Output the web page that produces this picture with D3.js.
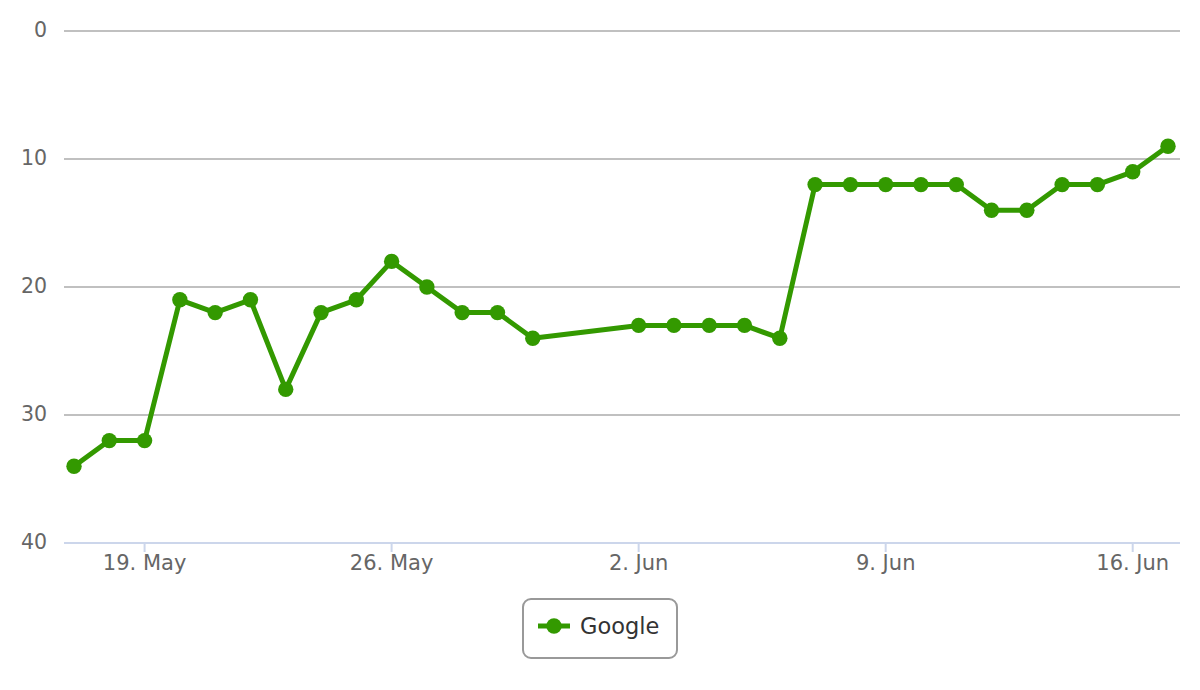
<!DOCTYPE html>
<html>
<head>
<meta charset="utf-8">
<script src="https://cdn.jsdelivr.net/npm/d3@7"></script>
<style>
html,body{margin:0;padding:0;background:#fff;}
svg{display:block;font-family:"DejaVu Sans",Verdana,sans-serif;}
</style>
</head>
<body>
<svg id="chart" width="1200" height="690"></svg>
<script>
const seriesName = "Google";
const dates = [
  "2014-05-17","2014-05-18","2014-05-19","2014-05-20","2014-05-21","2014-05-22","2014-05-23",
  "2014-05-24","2014-05-25","2014-05-26","2014-05-27","2014-05-28","2014-05-29","2014-05-30",
  "2014-06-02","2014-06-03","2014-06-04","2014-06-05","2014-06-06","2014-06-07","2014-06-08",
  "2014-06-09","2014-06-10","2014-06-11","2014-06-12","2014-06-13","2014-06-14","2014-06-15",
  "2014-06-16","2014-06-17"
];
const ranks = [34,32,32,21,22,21,28,22,21,18,20,22,22,24,
               23,23,23,23,24,12,12,12,12,12,14,14,12,12,11,9];
const xTicks = ["2014-05-19","2014-05-26","2014-06-02","2014-06-09","2014-06-16"];
const yTicks = [0,10,20,30,40];

const svg = d3.select("#chart");
const parse = d3.utcParse("%Y-%m-%d");
const fmt = d3.utcFormat("%-d. %b");
const data = dates.map((d,i)=>({date:parse(d), v:ranks[i]}));

const plotLeft = 64, plotRight = 1180;
const x = d3.scaleUtc().domain([parse("2014-05-17"), parse("2014-06-17")]).range([74, 1168]);
const y = d3.scaleLinear().domain([0,40]).range([31,543]);

// grid lines
svg.append("g").selectAll("line").data(yTicks.filter(t=>t<40)).join("line")
  .attr("x1",plotLeft).attr("x2",plotRight)
  .attr("y1",d=>y(d)).attr("y2",d=>y(d))
  .attr("stroke","#c0c0c0").attr("stroke-width",2);

// y labels
svg.append("g").selectAll("text").data(yTicks).join("text")
  .attr("x",47).attr("y",d=>y(d)-1.5).attr("dy","0.36em")
  .attr("text-anchor","end").attr("fill","#666").attr("font-size",20.5)
  .text(d=>d);

// x axis line
svg.append("line").attr("x1",plotLeft).attr("x2",plotRight)
  .attr("y1",y(40)).attr("y2",y(40)).attr("stroke","#ccd6eb").attr("stroke-width",2);

const xt = svg.append("g").selectAll("g").data(xTicks.map(parse)).join("g")
  .attr("transform",d=>`translate(${x(d)},0)`);
xt.append("line").attr("y1",y(40)).attr("y2",y(40)+9).attr("stroke","#ccd6eb").attr("stroke-width",2);
xt.append("text").attr("y",570).attr("text-anchor","middle").attr("fill","#666").attr("font-size",21)
  .text(d=>fmt(d));

const color = "#339900";
const line = d3.line().x(d=>x(d.date)).y(d=>y(d.v));
svg.append("path").datum(data).attr("d",line)
  .attr("fill","none").attr("stroke",color).attr("stroke-width",5)
  .attr("stroke-linejoin","round").attr("stroke-linecap","round");
svg.append("g").selectAll("circle").data(data).join("circle")
  .attr("cx",d=>x(d.date)).attr("cy",d=>y(d.v)).attr("r",7.7).attr("fill",color);

// legend
const lg = svg.append("g");
lg.append("rect").attr("x",523).attr("y",599).attr("width",154).attr("height",59)
  .attr("rx",8).attr("ry",8).attr("fill","#fff").attr("stroke","#999").attr("stroke-width",2);
lg.append("line").attr("x1",538).attr("x2",570).attr("y1",626).attr("y2",626)
  .attr("stroke",color).attr("stroke-width",5);
lg.append("circle").attr("cx",554).attr("cy",626).attr("r",7.7).attr("fill",color);
lg.append("text").attr("x",580).attr("y",634).attr("fill","#333").attr("font-size",22.5).text(seriesName);
</script>
</body>
</html>
